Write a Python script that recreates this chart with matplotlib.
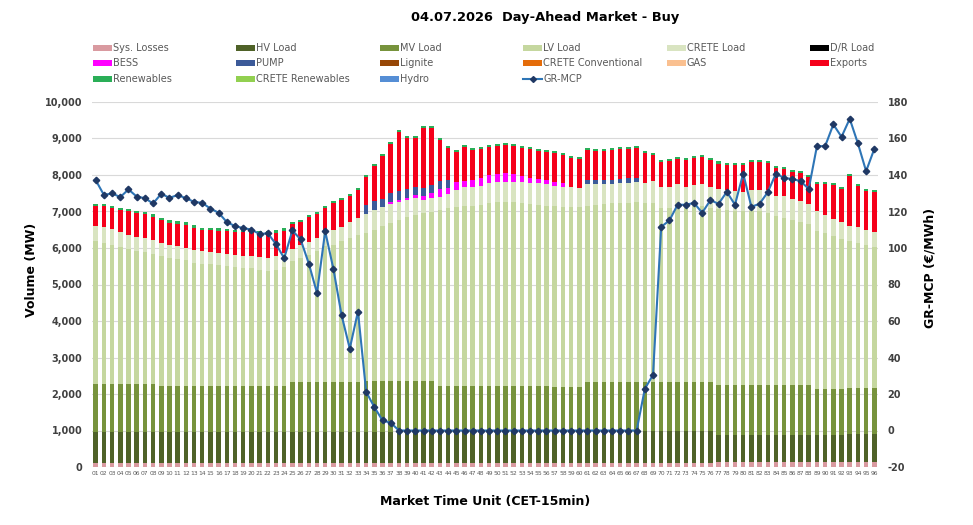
import numpy as np
import matplotlib
matplotlib.use('Agg')
import matplotlib.pyplot as plt
from matplotlib.patches import Rectangle
from matplotlib.lines import Line2D
from matplotlib.ticker import FuncFormatter, MultipleLocator

plt.rcParams['axes.unicode_minus'] = False

# market time units 01..96
mtu = ['%02d' % i for i in range(1, 97)]

sys_losses = [100, 100, 100, 100, 100, 100, 100, 100, 100, 100,
              100, 100, 100, 100, 100, 100, 100, 100, 100, 100,
              100, 100, 100, 100, 100, 100, 100, 100, 100, 100,
              100, 100, 100, 100, 100, 100, 100, 100, 100, 100,
              100, 100, 100, 100, 100, 100, 100, 100, 100, 100,
              100, 100, 100, 100, 100, 100, 100, 100, 100, 100,
              100, 100, 100, 100, 100, 100, 100, 110, 110, 110,
              110, 110, 110, 110, 110, 110, 130, 130, 130, 130,
              130, 130, 130, 130, 130, 130, 130, 130, 130, 130,
              130, 130, 130, 130, 130, 130]

hv_load = [870, 870, 870, 870, 870, 870, 870, 870, 870, 870,
           870, 870, 870, 870, 870, 870, 870, 870, 870, 870,
           870, 870, 870, 870, 870, 870, 870, 870, 870, 870,
           870, 870, 870, 870, 870, 870, 870, 870, 870, 870,
           870, 870, 870, 870, 870, 870, 870, 870, 870, 870,
           870, 870, 870, 870, 870, 870, 870, 870, 870, 870,
           870, 870, 870, 870, 870, 870, 870, 870, 870, 870,
           870, 880, 870, 870, 870, 870, 760, 760, 760, 760,
           760, 760, 760, 760, 760, 760, 760, 760, 760, 760,
           760, 760, 770, 770, 770, 770]

mv_load = [1300, 1300, 1300, 1300, 1300, 1300, 1300, 1300, 1240, 1240,
           1240, 1240, 1240, 1240, 1240, 1240, 1240, 1240, 1240, 1240,
           1240, 1240, 1240, 1240, 1350, 1350, 1350, 1350, 1350, 1350,
           1350, 1350, 1350, 1390, 1390, 1390, 1390, 1390, 1390, 1390,
           1390, 1390, 1260, 1260, 1260, 1260, 1260, 1260, 1260, 1260,
           1260, 1260, 1260, 1260, 1260, 1260, 1230, 1230, 1230, 1230,
           1350, 1350, 1350, 1350, 1350, 1350, 1350, 1350, 1350, 1350,
           1350, 1350, 1350, 1350, 1350, 1350, 1345, 1345, 1345, 1345,
           1345, 1345, 1345, 1345, 1345, 1345, 1345, 1345, 1255, 1255,
           1255, 1255, 1255, 1255, 1255, 1255]

lv_load = [3910, 3860, 3820, 3750, 3710, 3660, 3620, 3560, 3560, 3520,
           3490, 3450, 3380, 3350, 3340, 3320, 3290, 3260, 3240, 3230,
           3180, 3150, 3200, 3280, 3320, 3410, 3500, 3590, 3730, 3770,
           3860, 3950, 4040, 4050, 4140, 4230, 4320, 4410, 4500, 4550,
           4590, 4640, 4810, 4860, 4880, 4910, 4930, 4950, 5000, 5020,
           5020, 5020, 5000, 4980, 4950, 4930, 4940, 4930, 4910, 4910,
           4840, 4860, 4880, 4900, 4910, 4920, 4930, 4900, 4900, 4760,
           4760, 4810, 4780, 4810, 4810, 4760, 4840, 4810, 4790, 4770,
           4770, 4770, 4720, 4630, 4590, 4540, 4480, 4410, 4330, 4270,
           4180, 4110, 4040, 3970, 3930, 3860]

crete_load = [410, 440, 430, 430, 380, 380, 380, 380, 360, 350,
              350, 340, 360, 350, 350, 340, 340, 350, 340, 350,
              360, 360, 360, 370, 330, 340, 340, 360, 400, 400,
              390, 440, 450, 520, 550, 520, 520, 500, 460, 460,
              370, 360, 360, 380, 480, 520, 520, 530, 550, 550,
              560, 550, 570, 560, 590, 580, 560, 530, 550, 530,
              580, 560, 550, 530, 540, 550, 550, 550, 610, 570,
              590, 610, 570, 590, 610, 570, 530, 550, 550, 540,
              590, 590, 630, 570, 610, 570, 580, 560, 530, 500,
              460, 460, 410, 440, 420, 420]

bess = [0, 0, 0, 0, 0, 0, 0, 0, 0, 0,
        0, 0, 0, 0, 0, 0, 0, 0, 0, 0,
        0, 0, 0, 0, 0, 0, 0, 0, 0, 0,
        0, 0, 0, 0, 0, 0, 50, 50, 60, 70,
        110, 140, 210, 180, 210, 180, 170, 220, 210, 230,
        250, 240, 180, 150, 120, 120, 120, 120, 0, 0,
        0, 0, 0, 0, 0, 0, 0, 0, 0, 0,
        0, 0, 0, 0, 0, 0, 0, 0, 0, 0,
        0, 0, 0, 0, 0, 0, 0, 0, 0, 0,
        0, 0, 0, 0, 0, 0]

pump = [0, 0, 0, 0, 0, 0, 0, 0, 0, 0,
        0, 0, 0, 0, 0, 0, 0, 0, 0, 0,
        0, 0, 0, 0, 0, 0, 0, 0, 0, 0,
        0, 0, 0, 240, 250, 240, 250, 250, 230, 220,
        220, 230, 220, 220, 0, 0, 0, 0, 0, 0,
        0, 0, 0, 0, 0, 0, 0, 0, 0, 0,
        130, 110, 110, 120, 130, 130, 130, 0, 0, 0,
        0, 0, 0, 0, 0, 0, 0, 0, 0, 0,
        0, 0, 0, 0, 0, 0, 0, 0, 0, 0,
        0, 0, 0, 0, 0, 0]

exports = [560, 580, 570, 590, 650, 650, 650, 650, 630, 610,
           620, 640, 610, 590, 580, 600, 620, 610, 650, 650,
           650, 680, 650, 610, 680, 640, 680, 660, 640, 730,
           740, 720, 780, 780, 960, 1170, 1340, 1600, 1410, 1350,
           1650, 1570, 1130, 880, 820, 920, 830, 780, 790, 770,
           760, 750, 750, 790, 770, 760, 780, 760, 810, 800,
           820, 810, 810, 810, 810, 800, 810, 810, 700, 690,
           690, 680, 740, 740, 750, 750, 710, 670, 710, 720,
           750, 750, 750, 750, 740, 750, 750, 730, 760, 830,
           950, 900, 1370, 1130, 1050, 1110]

renewables = [60, 60, 60, 60, 70, 60, 60, 70, 60, 70,
              60, 60, 60, 60, 70, 70, 70, 60, 60, 60,
              70, 60, 60, 70, 60, 70, 70, 60, 60, 60,
              60, 50, 60, 55, 55, 55, 55, 55, 50, 55,
              55, 55, 55, 55, 55, 55, 55, 55, 55, 55,
              55, 55, 55, 55, 55, 55, 55, 55, 55, 55,
              55, 55, 55, 55, 55, 55, 55, 55, 55, 55,
              55, 55, 55, 55, 55, 55, 55, 55, 55, 55,
              55, 55, 55, 55, 55, 55, 55, 55, 55, 55,
              55, 55, 55, 55, 55, 55]

gr_mcp = [137.2, 129.1, 129.9, 127.9, 132.1, 128.2, 127.3, 124.4, 129.7, 127.5,
          129.0, 127.3, 125.3, 124.7, 121.6, 119.3, 114.2, 112.0, 110.9, 110.1,
          107.6, 108.1, 102.1, 94.4, 109.6, 104.7, 91.5, 75.4, 109.2, 88.6,
          63.2, 44.9, 65.2, 21.2, 12.8, 5.5, 4.2, 0.0, 0.0, 0.0,
          0.0, 0.0, 0.0, 0.0, 0.0, 0.0, 0.0, 0.0, 0.0, 0.0,
          0.0, 0.0, 0.0, 0.0, 0.0, 0.0, 0.0, 0.0, 0.0, 0.0,
          0.0, 0.0, 0.0, 0.0, 0.0, 0.0, 0.0, 22.8, 30.5, 111.6,
          115.1, 123.7, 123.7, 124.7, 119.3, 126.2, 124.2, 130.8, 123.7, 140.8,
          122.6, 124.2, 130.6, 140.8, 138.3, 137.9, 136.6, 132.4, 155.8, 155.8,
          167.7, 160.9, 170.8, 157.3, 142.1, 154.3]

colors = {
    'Sys. Losses': '#d99aa0',
    'HV Load': '#4f6228',
    'MV Load': '#77933c',
    'LV Load': '#c5d79f',
    'CRETE Load': '#d9e4c1',
    'D/R Load': '#000000',
    'BESS': '#ff00ff',
    'PUMP': '#3c5a99',
    'Lignite': '#974706',
    'CRETE Conventional': '#e46c0a',
    'GAS': '#fac090',
    'Exports': '#f5001a',
    'Renewables': '#2aae57',
    'CRETE Renewables': '#92d050',
    'Hydro': '#558ed5',
}

stack = [('Sys. Losses', sys_losses), ('HV Load', hv_load), ('MV Load', mv_load),
         ('LV Load', lv_load), ('CRETE Load', crete_load), ('BESS', bess),
         ('PUMP', pump), ('Exports', exports), ('Renewables', renewables)]

W, H = 973, 525
fig = plt.figure(figsize=(W / 100, H / 100), dpi=100)
ax = fig.add_axes([92 / W, 58 / H, 786 / W, 365 / H])

x = np.arange(len(mtu))
bottom = np.zeros(len(mtu))
for name, vals in stack:
    vals = np.array(vals, dtype=float)
    ax.bar(x, vals, bottom=bottom, width=0.55, color=colors[name], linewidth=0, zorder=2)
    bottom += vals

ax.set_xlim(-0.45, 95.45)
ax.set_ylim(0, 10000)
ax.yaxis.set_major_locator(MultipleLocator(1000))
ax.yaxis.set_major_formatter(FuncFormatter(lambda v, p: '{:,.0f}'.format(v)))
ax.yaxis.grid(True, color='#d9d9d9', lw=0.8, zorder=0)
ax.set_axisbelow(True)
ax.set_xticks(x)
ax.set_xticklabels(mtu, fontsize=4.3, color='#595959')
ax.tick_params(axis='x', length=0, pad=3)
ax.tick_params(axis='y', length=0, pad=7, labelsize=7, labelcolor='#404040')
for lab in ax.get_yticklabels():
    lab.set_fontweight('bold')
for s in ax.spines.values():
    s.set_visible(False)

ax2 = ax.twinx()
ax2.set_ylim(-20, 180)
ax2.yaxis.set_major_locator(MultipleLocator(20))
ax2.plot(x, gr_mcp, color='#2e75b6', lw=1.5, marker='D', ms=3.3,
         mfc='#1f3864', mec='#1f3864', zorder=5)
ax2.tick_params(axis='y', length=0, pad=7, labelsize=7, labelcolor='#404040')
for lab in ax2.get_yticklabels():
    lab.set_fontweight('bold')
for s in ax2.spines.values():
    s.set_visible(False)

# titles and axis labels
fig.text(545 / W, 1 - 17 / H, '04.07.2026  Day-Ahead Market - Buy', ha='center', va='center',
         fontsize=9.4, fontweight='bold', color='#000000')
fig.text(32 / W, 1 - 270 / H, 'Volume (MW)', rotation=90, ha='center', va='center',
         fontsize=9, fontweight='bold')
fig.text(930 / W, 1 - 268 / H, 'GR-MCP (€/MWh)', rotation=90, ha='center', va='center',
         fontsize=9, fontweight='bold')
fig.text(485 / W, 1 - 502 / H, 'Market Time Unit (CET-15min)', ha='center', va='center',
         fontsize=9, fontweight='bold')

# legend laid out like the Excel one (6 evenly spaced columns)
legend_rows = [['Sys. Losses', 'HV Load', 'MV Load', 'LV Load', 'CRETE Load', 'D/R Load'],
               ['BESS', 'PUMP', 'Lignite', 'CRETE Conventional', 'GAS', 'Exports'],
               ['Renewables', 'CRETE Renewables', 'Hydro', 'GR-MCP']]
for r, row in enumerate(legend_rows):
    yc = 1 - (48 + 15.5 * r) / H
    for c, name in enumerate(row):
        x0 = (93 + 143.4 * c) / W
        if name == 'GR-MCP':
            fig.add_artist(Line2D([x0, x0 + 19 / W], [yc, yc], color='#2e75b6', lw=1.5,
                                  transform=fig.transFigure))
            fig.add_artist(Line2D([x0 + 9.5 / W], [yc], color='#1f3864', marker='D', ms=3,
                                  lw=0, transform=fig.transFigure))
        else:
            fig.add_artist(Rectangle((x0, yc - 3 / H), 19 / W, 6 / H, color=colors[name],
                                     transform=fig.transFigure, lw=0))
        fig.text(x0 + 20 / W, yc, name, ha='left', va='center', fontsize=7, color='#595959')

fig.savefig('out.png', dpi=100)
